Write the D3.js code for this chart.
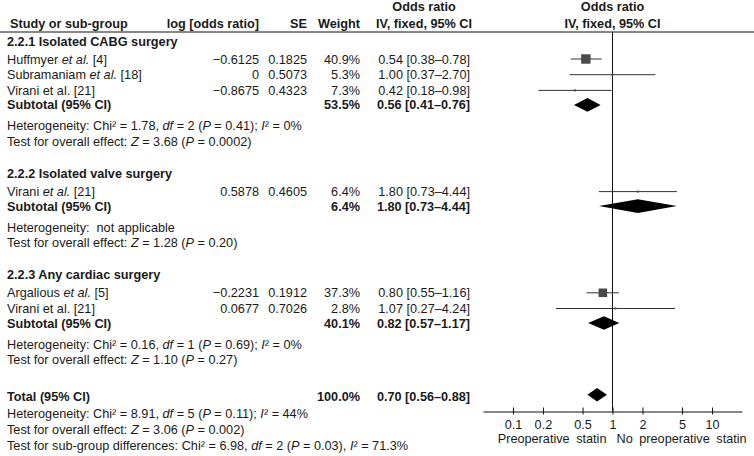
<!DOCTYPE html>
<html>
<head>
<meta charset="utf-8">
<script src="https://cdn.jsdelivr.net/npm/d3@7"></script>
<style>
    body { margin: 0; background: white; }
    svg { display: block; font-family: Arial, "Liberation Sans", sans-serif; font-size: 12.7px; }
    text { fill: #1a1a1a; white-space: pre; }
    .b { font-weight: bold; }
</style>
</head>
<body>
<svg id="chart" width="754" height="456"></svg>
<script>
// studies
const studyNames = ['Huffmyer', 'Subramaniam', 'Virani', 'Virani', 'Argalious', 'Virani']
const studyRefs = ['[4]', '[18]', '[21]', '[21]', '[5]', '[21]']
const etAlItalic = [true, true, false, true, true, false]
const studyGroup = [0, 0, 0, 1, 2, 2]
const logOR = [-0.6125, 0, -0.8675, 0.5878, -0.2231, 0.0677]
const se = [0.1825, 0.5073, 0.4323, 0.4605, 0.1912, 0.7026]
const weight = [40.9, 5.3, 7.3, 6.4, 37.3, 2.8]
const oddsRatio = [0.54, 1.00, 0.42, 1.80, 0.80, 1.07]
const ciLow = [0.38, 0.37, 0.18, 0.73, 0.55, 0.27]
const ciHigh = [0.78, 2.70, 0.98, 4.44, 1.16, 4.24]

// sub-groups
const groupNames = ['2.2.1 Isolated CABG surgery', '2.2.2 Isolated valve surgery', '2.2.3 Any cardiac surgery']
const subWeight = [53.5, 6.4, 40.1]
const subOR = [0.56, 1.80, 0.82]
const subLow = [0.41, 0.73, 0.57]
const subHigh = [0.76, 4.44, 1.17]
const subChi = ['1.78', null, '0.16']
const subDf = ['2', null, '1']
const subHetP = ['0.41', null, '0.69']
const subI2 = ['0%', null, '0%']
const subZ = ['3.68', '1.28', '1.10']
const subZP = ['0.0002', '0.20', '0.27']

// total
const totalWeight = 100.0
const totalOR = [0.70, 0.56, 0.88]
const totalHet = ['8.91', '5', '0.11', '44%']
const totalEffect = ['3.06', '0.002']
const subgroupDiff = ['6.98', '2', '0.03', '71.3%']

// axis
const tickValues = [0.1, 0.2, 0.5, 1, 2, 5, 10]
const tickLabels = ['0.1', '0.2', '0.5', '1', '2', '5', '10']
const favoursLeft = 'Preoperative statin'
const favoursRight = 'No preoperative statin'

const svg = d3.select('#chart')
const x = d3.scaleLog().domain([0.05, 20]).range([483, 742])
const axisY = 411.5
const ruleY = 32
const col = { label: 7, logOR: 259, se: 307, weight: 360, ci: 470, ciHead: 424 }

const dash = s => s.replace('-', '–')
const fmtOR = d3.format('.2f')
const fmtLog = v => v === 0 ? '0' : dash(d3.format('.4f')(v))
const ciText = (o, l, h) => `${fmtOR(o)} [${fmtOR(l)}–${fmtOR(h)}]`

// build row list: each row gets a y from gaps between row kinds
const rows = []
groupNames.forEach((g, gi) => {
    rows.push({ kind: 'heading', text: g })
    studyNames.forEach((s, i) => { if (studyGroup[i] === gi) rows.push({ kind: 'study', i }) })
    rows.push({ kind: 'subtotal', gi })
    rows.push({ kind: 'het', gi })
    rows.push({ kind: 'effect', gi })
})
rows.push({ kind: 'total' })
rows.push({ kind: 'totalHet' })
rows.push({ kind: 'totalEffect' })
rows.push({ kind: 'subDiff' })

const gap = (prev, cur) => {
    if (!prev) return 41
    if (cur === 'heading') return 32
    if (cur === 'total') return 37
    if (prev === 'heading') return 18
    if (cur === 'subtotal') return 14.5
    if (cur === 'het') return 21
    if (cur === 'totalHet') return 17
    return 15.7
}
let yy = 0
rows.forEach((r, i) => { yy += gap(rows[i - 1]?.kind, r.kind); r.y = yy })

const baseline = 4.5

// header
const head = svg.append('g')
head.append('text').attr('class', 'b').attr('x', 10).attr('y', 28).text('Study or sub-group')
head.append('text').attr('class', 'b').attr('x', col.logOR).attr('y', 28).attr('text-anchor', 'end').text('log [odds ratio]')
head.append('text').attr('class', 'b').attr('x', col.se).attr('y', 28).attr('text-anchor', 'end').text('SE')
head.append('text').attr('class', 'b').attr('x', col.weight).attr('y', 28).attr('text-anchor', 'end').text('Weight')
head.append('text').attr('class', 'b').attr('x', col.ciHead).attr('y', 11).attr('text-anchor', 'middle').text('Odds ratio')
head.append('text').attr('class', 'b').attr('x', col.ciHead).attr('y', 28).attr('text-anchor', 'middle').text('IV, fixed, 95% CI')
head.append('text').attr('class', 'b').attr('x', x(1)).attr('y', 11).attr('text-anchor', 'middle').text('Odds ratio')
head.append('text').attr('class', 'b').attr('x', x(1)).attr('y', 28).attr('text-anchor', 'middle').text('IV, fixed, 95% CI')
svg.append('line').attr('x1', 0).attr('x2', 754).attr('y1', ruleY).attr('y2', ruleY)
    .attr('stroke', '#111').attr('stroke-width', 1)

// line of no effect
svg.append('line').attr('x1', x(1)).attr('x2', x(1)).attr('y1', ruleY).attr('y2', axisY)
    .attr('stroke', '#111').attr('stroke-width', 1)

// mixed italic text helper: parts = [[text, italic], ...]
function rich(y, parts) {
    const t = svg.append('text').attr('x', col.label).attr('y', y + baseline)
    parts.forEach(([s, it]) => t.append('tspan').attr('font-style', it ? 'italic' : null).text(s))
    return t
}
const hetParts = (chi, df, p, i2, sep) => [
    ['Heterogeneity: Chi² = ' + chi + ', '], ['df', true], [' = ' + df + ' ('], ['P', true],
    [' = ' + p + ')' + sep + ' '], ['I', true], ['² = ' + i2]
]
const effectParts = (z, p) => [['Test for overall effect: '], ['Z', true], [' = ' + z + ' ('], ['P', true], [' = ' + p + ')']]

const diamond = (o, l, h, y) => {
    const hh = 6.8
    svg.append('path')
        .attr('d', `M${x(l)},${y}L${x(o)},${y - hh}L${x(h)},${y}L${x(o)},${y + hh}Z`)
        .attr('fill', 'black')
}

rows.forEach(r => {
    const y = r.y
    if (r.kind === 'heading') {
        svg.append('text').attr('class', 'b').attr('x', col.label).attr('y', y + baseline).text(r.text)
    } else if (r.kind === 'study') {
        const i = r.i
        rich(y, [[studyNames[i] + ' '], ['et al.', etAlItalic[i]], [' ' + studyRefs[i]]])
        svg.append('text').attr('x', col.logOR).attr('y', y + baseline).attr('text-anchor', 'end').text(fmtLog(logOR[i]))
        svg.append('text').attr('x', col.se).attr('y', y + baseline).attr('text-anchor', 'end').text(se[i].toFixed(4))
        svg.append('text').attr('x', col.weight).attr('y', y + baseline).attr('text-anchor', 'end').text(weight[i].toFixed(1) + '%')
        svg.append('text').attr('x', col.ci).attr('y', y + baseline).attr('text-anchor', 'end').text(ciText(oddsRatio[i], ciLow[i], ciHigh[i]))
        svg.append('line').attr('x1', x(ciLow[i])).attr('x2', x(ciHigh[i])).attr('y1', y).attr('y2', y)
            .attr('stroke', '#333').attr('stroke-width', 1)
        const s = Math.max(2, weight[i] * 0.23)
        svg.append('rect').attr('x', x(oddsRatio[i]) - s / 2).attr('y', y - s / 2).attr('width', s).attr('height', s)
            .attr('fill', '#4a4a4a')
    } else if (r.kind === 'subtotal') {
        const g = r.gi
        svg.append('text').attr('class', 'b').attr('x', col.label).attr('y', y + baseline).text('Subtotal (95% CI)')
        svg.append('text').attr('class', 'b').attr('x', col.weight).attr('y', y + baseline).attr('text-anchor', 'end').text(subWeight[g].toFixed(1) + '%')
        svg.append('text').attr('class', 'b').attr('x', col.ci).attr('y', y + baseline).attr('text-anchor', 'end').text(ciText(subOR[g], subLow[g], subHigh[g]))
        diamond(subOR[g], subLow[g], subHigh[g], y)
    } else if (r.kind === 'het') {
        const g = r.gi
        if (subChi[g] === null) rich(y, [['Heterogeneity:  not applicable']])
        else rich(y, hetParts(subChi[g], subDf[g], subHetP[g], subI2[g], ';'))
    } else if (r.kind === 'effect') {
        rich(y, effectParts(subZ[r.gi], subZP[r.gi]))
    } else if (r.kind === 'total') {
        svg.append('text').attr('class', 'b').attr('x', col.label).attr('y', y + baseline).text('Total (95% CI)')
        svg.append('text').attr('class', 'b').attr('x', col.weight).attr('y', y + baseline).attr('text-anchor', 'end').text(totalWeight.toFixed(1) + '%')
        svg.append('text').attr('class', 'b').attr('x', col.ci).attr('y', y + baseline).attr('text-anchor', 'end').text(ciText(...totalOR))
        diamond(totalOR[0], totalOR[1], totalOR[2], y - 2)
    } else if (r.kind === 'totalHet') {
        rich(y, hetParts(...totalHet, ';'))
    } else if (r.kind === 'totalEffect') {
        rich(y, effectParts(...totalEffect))
    } else if (r.kind === 'subDiff') {
        rich(y, [['Test for sub-group differences: Chi² = ' + subgroupDiff[0] + ', '], ['df', true],
            [' = ' + subgroupDiff[1] + ' ('], ['P', true], [' = ' + subgroupDiff[2] + '), '], ['I', true], ['² = ' + subgroupDiff[3]]])
    }
})

// axis
const axis = svg.append('g').attr('transform', `translate(0,${axisY})`)
    .call(d3.axisBottom(x).tickValues(tickValues).tickFormat((d, i) => tickLabels[i]).tickSizeInner(3).tickSizeOuter(0).tickPadding(5))
axis.select('.domain').attr('stroke', '#111')
axis.selectAll('.tick line').attr('y1', -4).attr('y2', 3).attr('stroke', '#111')
axis.selectAll('.tick text').attr('font-size', 12.7).attr('font-family', 'Arial, "Liberation Sans", sans-serif').attr('fill', '#1a1a1a')

svg.append('text').attr('x', x(1) - 6).attr('y', axisY + 31).attr('text-anchor', 'end').attr('word-spacing', 3).text(favoursLeft)
svg.append('text').attr('x', x(1) + 4).attr('y', axisY + 31).attr('word-spacing', 3).text(favoursRight)
</script>
</body>
</html>
